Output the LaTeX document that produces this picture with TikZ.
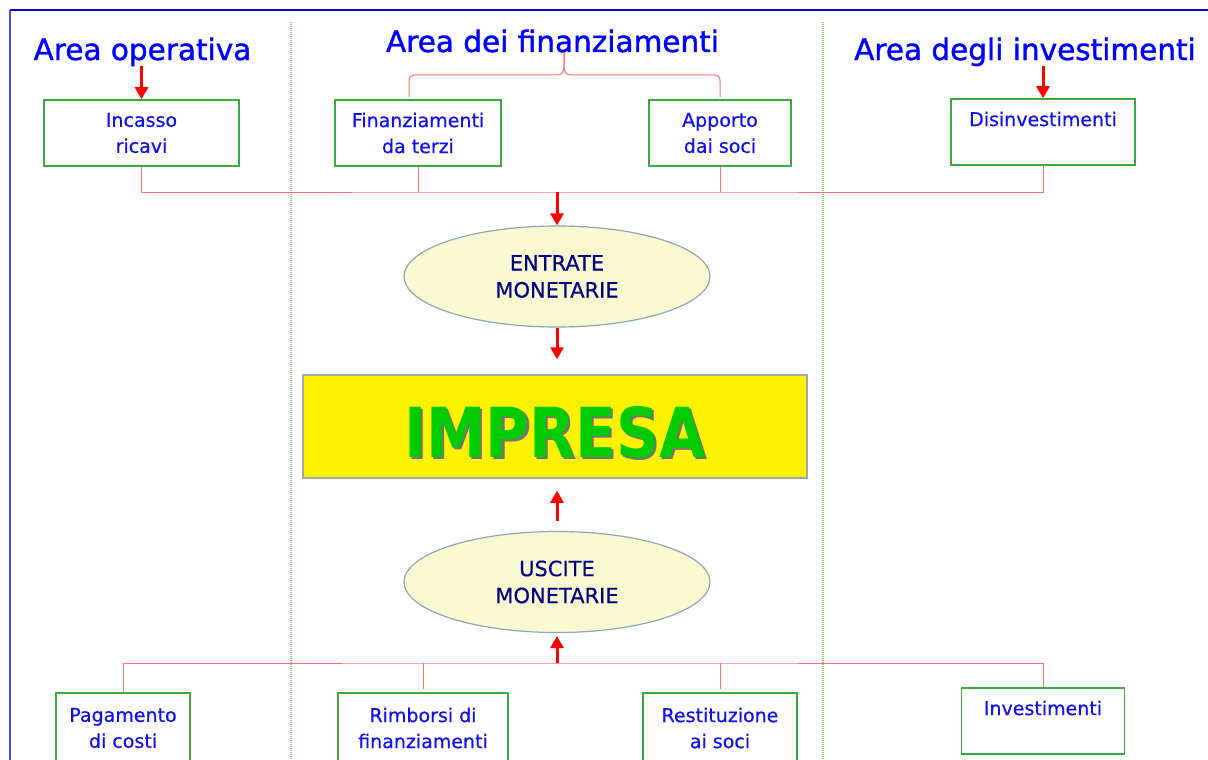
\documentclass[tikz,border=0pt]{standalone}
\usepackage{fontspec}
\usepackage{graphicx}
\setmainfont{DejaVu Sans}
\newfontfamily\titlefont{DejaVu Sans}[FakeBold=1.3]
\newfontfamily\boxfont{DejaVu Sans}[FakeBold=0.5]
\usetikzlibrary{arrows.meta,shapes.geometric,calc}
\definecolor{frameblue}{HTML}{0000CC}
\definecolor{frameblue2}{HTML}{4A4AE0}
\definecolor{titleblue}{HTML}{0000FF}
\definecolor{txtblue}{HTML}{1010EE}
\definecolor{navytxt}{HTML}{000080}
\definecolor{boxgreen}{HTML}{3DAA3D}
\definecolor{dotgreen}{HTML}{8CD48C}
\definecolor{connred}{HTML}{FF6F6F}
\definecolor{arrred}{HTML}{FF0000}
\definecolor{ellfill}{HTML}{FAFAD2}
\definecolor{elldraw}{HTML}{8FA5B5}
\definecolor{impgreen}{HTML}{00CC00}
\definecolor{impdraw}{HTML}{A0A8A8}
\tikzset{
  areatitle/.style={inner sep=0pt, anchor=base, text=titleblue, font=\titlefont\fontsize{29.5}{32}\selectfont},
  flowbox/.style={draw=boxgreen, line width=1.5pt, fill=white, rectangle, inner sep=0pt,
    minimum height=66pt, align=center, text=txtblue, font=\boxfont\fontsize{19}{26}\selectfont},
  money/.style={ellipse, draw=elldraw, line width=1.2pt, fill=ellfill, inner sep=0pt,
    minimum width=306pt, minimum height=101pt, align=center, text=navytxt,
    font=\boxfont\fontsize{21}{27}\selectfont},
  conn/.style={draw=connred, line width=1pt},
  bigarrow/.style={draw=arrred, line width=3pt, -{Triangle[width=13pt,length=12pt]}},
  divider/.style={draw=dotgreen, line width=1.3pt, dash pattern=on 1pt off 1pt},
}
\begin{document}
\begin{tikzpicture}[x=1pt,y=-1pt]
\useasboundingbox (0,0) rectangle (1208,760);
\fill[white] (0,0) rectangle (1208,760);
% frame
\draw[frameblue, line width=2pt] (10,10) -- (1208,10);
\draw[frameblue2, line width=2pt] (10,10) -- (10,760);
% dividers
\draw[divider] (291,22) -- (291,760);
\draw[divider] (823,22) -- (823,760);

% brace
\draw[conn] (409,97) -- (409,81) .. controls (409,77) and (411,75) .. (415,75) -- (557,75)
  .. controls (562,75) and (564,72) .. (564,66) -- (564,52);
\draw[conn] (564,52) -- (564,66) .. controls (564,72) and (566,75) .. (571,75) -- (714,75)
  .. controls (718,75) and (720,77) .. (720,81) -- (720,97);

% titles
\node[areatitle] (ao) at (142.5,60) {Area operativa};
\node[areatitle] (afin) at (552.5,52) {Area dei finanziamenti};
\node[areatitle] (adeg) at (1025,60) {Area degli investimenti};

% top boxes
\node[flowbox, minimum width=195pt] (inc) at (141.5,133) {Incasso\\ricavi};
\node[flowbox, minimum width=166pt] (fin) at (418,133) {Finanziamenti\\da terzi};
\node[flowbox, minimum width=142pt] (app) at (720,133) {Apporto\\dai soci};
\node[flowbox, minimum width=184pt] (dis) at (1043,132) {Disinvestimenti\\\phantom{Disinvestimenti}};

\draw[bigarrow] (ao.south -| inc.north) -- (inc.north);
\draw[bigarrow] (adeg.south -| dis.north) -- (dis.north);

% ellipses and IMPRESA
\node[money] (ent) at (557,276.5) {ENTRATE\\MONETARIE};
\node[money] (usc) at (557,582) {USCITE\\MONETARIE};
\node[rectangle, draw=impdraw, line width=1.5pt, fill=yellow, minimum width=504pt, minimum height=103pt, inner sep=0pt] (imp) at (555,426.5) {};
\node[inner sep=0pt, font=\bfseries\fontsize{69}{72}\selectfont] (imptext) at ($(imp.center)+(0,7)$)
  {\scalebox{0.865}[1]{\rlap{\raisebox{-2.5pt}{\hspace{2.5pt}\textcolor{black!55}{IMPRESA}}}\textcolor{impgreen}{IMPRESA}}};

% bottom boxes
\node[flowbox, minimum width=134pt, minimum height=70pt] (pag) at (123,728) {Pagamento\\di costi};
\node[flowbox, minimum width=170pt, minimum height=70pt] (rim) at (423,728) {Rimborsi di\\finanziamenti};
\node[flowbox, minimum width=154pt, minimum height=70pt] (res) at (720,728) {Restituzione\\ai soci};
\node[flowbox, minimum width=163pt] (inv) at (1043,721) {Investimenti\\\phantom{Investimenti}};

% top connectors
\coordinate (j1) at (557,192);
\draw[conn] (inc.south) |- (j1) -| (dis.south);
\draw[conn] (fin.south) -- (fin.south |- j1);
\draw[conn] (app.south) -- (app.south |- j1);
\draw[bigarrow] (j1) -- (ent.north);
\draw[bigarrow, shorten >=15pt] (ent.south) -- (ent.south |- imp.north);
\draw[bigarrow, shorten <=10pt, shorten >=12pt] (usc.north) -- (usc.north |- imp.south);

% bottom connectors
\coordinate (j2) at (557,663);
\draw[conn] (pag.north) |- (j2) -| (inv.north);
\draw[conn, shorten <=3pt] (rim.north) -- (rim.north |- j2);
\draw[conn, shorten <=3pt] (res.north) -- (res.north |- j2);
\draw[bigarrow, shorten >=3pt] (j2) -- (usc.south);
\end{tikzpicture}
\end{document}
